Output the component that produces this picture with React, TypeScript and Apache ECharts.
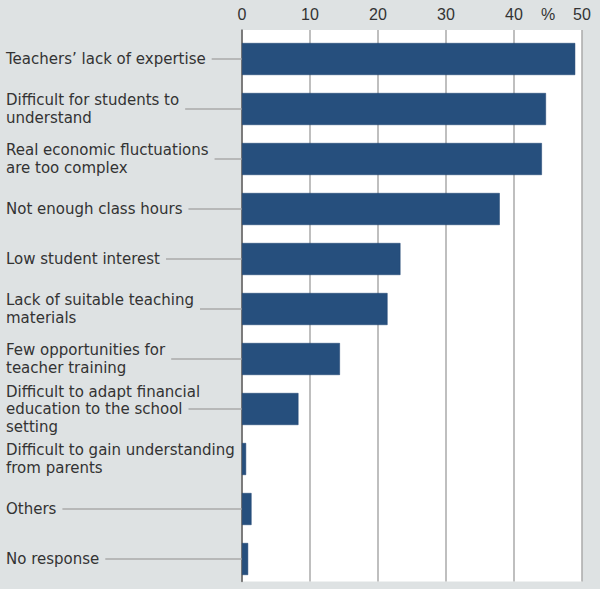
import { useEffect, useRef } from 'react';
import * as echarts from 'echarts';

const categories = [
  'Teachers’ lack of expertise',
  'Difficult for students to\nunderstand',
  'Real economic fluctuations\nare too complex',
  'Not enough class hours',
  'Low student interest',
  'Lack of suitable teaching\nmaterials',
  'Few opportunities for\nteacher training',
  'Difficult to adapt financial\neducation to the school\nsetting',
  'Difficult to gain understanding\nfrom parents',
  'Others',
  'No response',
];

const values = [49.0, 44.7, 44.1, 37.9, 23.3, 21.4, 14.4, 8.3, 0.6, 1.4, 0.9];

const xTicks = [0, 10, 20, 30, 40, 50];

const LABEL_FAMILY = '"DejaVu Sans", Verdana, sans-serif';
const LABEL_SIZE = 15;
const LABEL_MARGIN = 236;

// width of the label line that the leader line is attached to
function leaderLineWidth(label: string): number {
  const lines = label.split('\n');
  const line = lines.length === 3 ? lines[1] : lines[0];
  const ctx = document.createElement('canvas').getContext('2d');
  if (!ctx) return line.length * 8;
  ctx.font = `${LABEL_SIZE}px ${LABEL_FAMILY}`;
  return ctx.measureText(line).width;
}

export default function App() {
  const chartRef = useRef<HTMLDivElement>(null);

  useEffect(() => {
    if (!chartRef.current) return;
    const chart = echarts.init(chartRef.current, undefined, { renderer: 'svg' });

    const leaderWidths = categories.map(leaderLineWidth);

    const option = {
      animation: false,
      backgroundColor: '#dee2e3',
      grid: [
        {
          left: 242,
          right: 18,
          top: 30,
          bottom: 7.5,
          show: true,
          backgroundColor: '#ffffff',
          borderWidth: 0,
        },
        {
          left: 242,
          right: 18,
          top: 34,
          bottom: 5,
        },
      ],
      xAxis: [
        {
          type: 'value',
          gridIndex: 0,
          position: 'top',
          min: 0,
          max: 50,
          interval: 10,
          axisLine: { show: false },
          axisTick: { show: false },
          axisLabel: {
            color: '#333',
            fontSize: 16,
            fontFamily: '"Liberation Sans", Arial, sans-serif',
            margin: 8,
            formatter: (v: number) => (xTicks.includes(v) ? String(v) : ''),
          },
          splitLine: { lineStyle: { color: '#aaaaaa', width: 1.5 } },
        },
        {
          type: 'value',
          gridIndex: 1,
          min: 0,
          max: 50,
          show: false,
        },
      ],
      yAxis: [
        {
          type: 'category',
          gridIndex: 0,
          data: categories,
          inverse: true,
          axisLine: { show: true, lineStyle: { color: '#666', width: 1.5 } },
          axisTick: { show: false },
          axisLabel: { show: false },
          splitLine: { show: false },
        },
        {
          type: 'category',
          gridIndex: 1,
          data: categories,
          inverse: true,
          axisLine: { show: false },
          axisTick: { show: false },
          splitLine: { show: false },
          axisLabel: {
            interval: 0,
            align: 'left',
            margin: LABEL_MARGIN,
            color: '#333',
            fontSize: LABEL_SIZE,
            lineHeight: 17.5,
            fontFamily: LABEL_FAMILY,
          },
        },
      ],
      series: [
        {
          type: 'custom',
          xAxisIndex: 1,
          yAxisIndex: 1,
          silent: true,
          z: 1,
          data: categories.map((_, i) => [0, i]),
          renderItem: (params: any, api: any) => {
            const idx = params.dataIndex;
            const pt = api.coord([0, idx]);
            const x1 = pt[0] - LABEL_MARGIN + leaderWidths[idx] + 6;
            if (x1 >= pt[0] - 4) return null;
            return {
              type: 'line',
              shape: { x1, y1: pt[1], x2: pt[0], y2: pt[1] },
              style: { stroke: '#aaaaaa', lineWidth: 1.5 },
            };
          },
        },
        {
          type: 'bar',
          xAxisIndex: 1,
          yAxisIndex: 1,
          data: values,
          barWidth: 32,
          z: 2,
          itemStyle: { color: '#264f7d', borderColor: '#1d4170', borderWidth: 0.5 },
        },
      ],
      graphic: [
        {
          type: 'text',
          left: 541,
          top: 6,
          style: {
            text: '%',
            fill: '#333',
            fontSize: 16,
            fontFamily: '"Liberation Sans", Arial, sans-serif',
          },
        },
      ],
    };

    chart.setOption(option);

    return () => {
      chart.dispose();
    };
  }, []);

  return (
    <div
      ref={chartRef}
      style={{ width: 600, height: 589, position: 'absolute', left: 0, top: 0 }}
    />
  );
}
